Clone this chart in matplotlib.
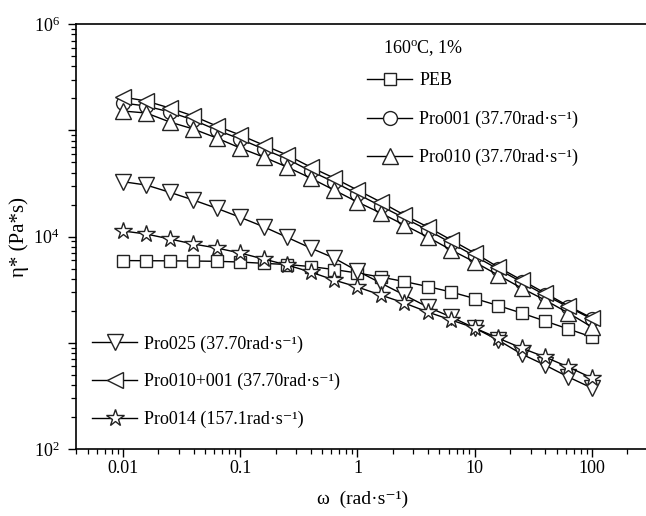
import numpy as np
import matplotlib
matplotlib.use("Agg")
import matplotlib.pyplot as plt
from matplotlib.ticker import LogLocator, FuncFormatter, NullFormatter, FixedLocator

plt.rcParams['font.family'] = ['Liberation Serif', 'DejaVu Serif']
plt.rcParams['mathtext.fontset'] = 'custom'
plt.rcParams['mathtext.rm'] = 'Liberation Serif'
plt.rcParams['mathtext.it'] = 'Liberation Serif:italic'
plt.rcParams['mathtext.bf'] = 'Liberation Serif:bold'

# angular frequency (rad/s), 5 points per decade
omega = [0.01, 0.0158, 0.0251, 0.0398, 0.0631, 0.1, 0.158, 0.251, 0.398, 0.631,
         1.0, 1.58, 2.51, 3.98, 6.31, 10.0, 15.8, 25.1, 39.8, 63.1, 100.0]

peb = [5944, 5919, 5907, 5882, 5844, 5754, 5595, 5451, 5219, 4890, 4533,
       4157, 3771, 3383, 3003, 2609, 2242, 1905, 1602, 1347, 1133]
pro001 = [180500, 169100, 148500, 124900, 100600, 82700, 66600, 53640, 41350, 32580,
          25120, 19370, 14930, 11510, 8687, 6552, 4944, 3731, 2814, 2170, 1673]
pro010 = [151800, 145400, 119600, 102800, 84550, 68080, 56000, 45100, 35530, 27390,
          21120, 16640, 12830, 9890, 7463, 5754, 4341, 3275, 2525, 1905, 1407]
pro025 = [32800, 30520, 26060, 22050, 18430, 15160, 12370, 9830, 7795, 6277,
          4735, 3651, 2814, 2170, 1747, 1377, 1062, 784, 617, 476, 375]
pro010_001 = [205500, 188500, 161900, 136200, 109600, 90210, 72630, 58500, 45100, 35530,
              27390, 21120, 15930, 12290, 9270, 6993, 5163, 3896, 2938, 2217, 1710]
pro014 = [11270, 10560, 9473, 8500, 7795, 6993, 6141, 5395, 4633, 3896, 3347,
          2814, 2366, 1947, 1637, 1377, 1108, 892, 734, 591, 466]

labels = ["PEB",
          "Pro001 (37.70rad·s⁻¹)",
          "Pro010 (37.70rad·s⁻¹)",
          "Pro025 (37.70rad·s⁻¹)",
          "Pro010+001 (37.70rad·s⁻¹)",
          "Pro014 (157.1rad·s⁻¹)"]
title_text = "160$^{\\rm o}$C, 1%"
xtick_vals = [0.01, 0.1, 1, 10, 100]
xtick_labels = ["0.01", "0.1", "1", "10", "100"]

fig = plt.figure(figsize=(6.46, 5.16), dpi=100)
ax = fig.add_axes([0.1183, 0.1298, 0.8845, 0.8236])

common = dict(color='black', lw=1.0, mfc='white', mec='#222222', mew=1.0)
h_peb, = ax.plot(omega, peb, marker='s', ms=9, label=labels[0], **common)
h_001, = ax.plot(omega, pro001, marker='o', ms=10, label=labels[1], **common)
h_010, = ax.plot(omega, pro010, marker='^', ms=11, label=labels[2], **common)
h_025, = ax.plot(omega, pro025, marker='v', ms=11, label=labels[3], **common)
h_mix, = ax.plot(omega, pro010_001, marker='<', ms=11, label=labels[4], **common)
h_014, = ax.plot(omega, pro014, marker='*', ms=13, label=labels[5], **common)

ax.set_xscale('log')
ax.set_yscale('log')
ax.set_xlim(0.004, 300)
ax.set_ylim(1e2, 1e6)

ax.xaxis.set_major_locator(FixedLocator(xtick_vals))
ax.set_xticklabels(xtick_labels)
ax.xaxis.set_minor_locator(LogLocator(base=10, subs=np.arange(2, 10), numticks=20))
ax.xaxis.set_minor_formatter(NullFormatter())

ax.yaxis.set_major_locator(LogLocator(base=10, numticks=10))
ax.yaxis.set_major_formatter(FuncFormatter(
    lambda v, p: "$10^{%d}$" % round(np.log10(v)) if round(np.log10(v)) % 2 == 0 else ""))
ax.yaxis.set_minor_locator(LogLocator(base=10, subs=np.arange(2, 10), numticks=20))
ax.yaxis.set_minor_formatter(NullFormatter())

ax.spines['right'].set_visible(False)
for s in ['left', 'bottom', 'top']:
    ax.spines[s].set_linewidth(1.2)
ax.tick_params(which='major', direction='out', length=6, width=1.0, labelsize=13,
               top=False, right=False)
ax.tick_params(axis='x', which='major', pad=2)
ax.tick_params(axis='y', which='major', pad=6)
ax.tick_params(which='minor', direction='out', length=3.5, width=0.9, top=False, right=False)

ax.set_xlabel("ω  (rad·s⁻¹)", fontsize=14, labelpad=10)
ax.set_ylabel("η* (Pa*s)", fontsize=15, labelpad=3)

ax.text(0.5366, 0.9435, title_text, transform=ax.transAxes, fontsize=13,
        ha='left', va='center')

leg1 = ax.legend(handles=[h_peb, h_001, h_010], loc='upper left',
                 bbox_to_anchor=(0.5086, 0.886), frameon=False, fontsize=13,
                 handlelength=2.5, handletextpad=0.4, labelspacing=1.17,
                 borderaxespad=0, borderpad=0)
ax.add_artist(leg1)
leg2 = ax.legend(handles=[h_025, h_mix, h_014], loc='upper left',
                 bbox_to_anchor=(0.0273, 0.267), frameon=False, fontsize=13,
                 handlelength=2.5, handletextpad=0.4, labelspacing=1.12,
                 borderaxespad=0, borderpad=0)

fig.savefig("out.png", dpi=100)
